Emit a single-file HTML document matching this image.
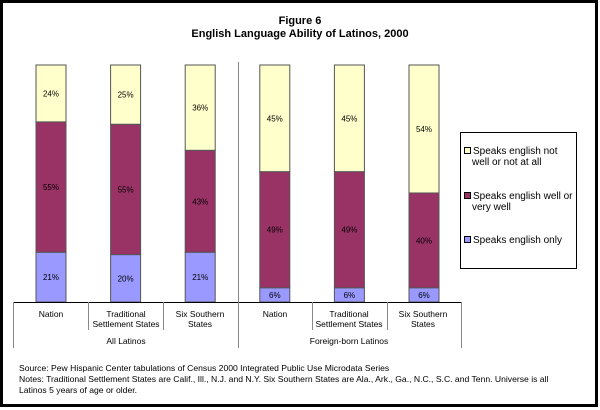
<!DOCTYPE html>
<html><head><meta charset="utf-8"><style>
body{margin:0;width:600px;height:410px;background:#fff;overflow:hidden}
svg{display:block;font-family:"Liberation Sans",Arial,sans-serif}
</style></head><body>
<svg id="c" width="600" height="410">
<rect x="1.5" y="1.5" width="595" height="404" fill="#fff" stroke="#000" stroke-width="3"/>
<text x="300" y="24" text-anchor="middle" font-size="11" font-weight="bold">Figure 6</text>
<text x="300" y="37" text-anchor="middle" font-size="11" font-weight="bold">English Language Ability of Latinos, 2000</text>
<g id="bars"></g>
<g id="axis" stroke="#000" stroke-width="1" fill="none">
<line x1="13" y1="302.5" x2="461" y2="302.5"/>
<line x1="238.5" y1="62" x2="238.5" y2="348" stroke="#888"/>
<line x1="13.5" y1="302" x2="13.5" y2="348" stroke="#888"/>
<line x1="461.5" y1="302" x2="461.5" y2="348" stroke="#888"/>
<line x1="88.5" y1="302" x2="88.5" y2="330" stroke="#888"/>
<line x1="163.5" y1="302" x2="163.5" y2="330" stroke="#888"/>
<line x1="312.5" y1="302" x2="312.5" y2="330" stroke="#888"/>
<line x1="387.5" y1="302" x2="387.5" y2="330" stroke="#888"/>
</g>
<g font-size="8.5" fill="#000" text-anchor="middle">
<text x="51" y="317">Nation</text>
<text x="126" y="317">Traditional</text>
<text x="126" y="327">Settlement States</text>
<text x="200" y="317">Six Southern</text>
<text x="200" y="327">States</text>
<text x="275" y="317">Nation</text>
<text x="349" y="317">Traditional</text>
<text x="349" y="327">Settlement States</text>
<text x="423" y="317">Six Southern</text>
<text x="423" y="327">States</text>
<text x="126" y="344">All Latinos</text>
<text x="349" y="344">Foreign-born Latinos</text>
</g>
<g>
<rect x="460.5" y="132.5" width="116" height="136" fill="#fff" stroke="#000"/>
<rect x="464.5" y="147.5" width="6" height="6" fill="#FFFFCC" stroke="#000"/>
<text x="473" y="154" font-size="10">Speaks english not</text>
<text x="472" y="165" font-size="10">well or not at all</text>
<rect x="464.5" y="192.5" width="6" height="6" fill="#993366" stroke="#000"/>
<text x="473" y="199" font-size="10">Speaks english well or</text>
<text x="472" y="210" font-size="10">very well</text>
<rect x="464.5" y="236.5" width="6" height="6" fill="#9999FF" stroke="#000"/>
<text x="473" y="243" font-size="10">Speaks english only</text>
</g>
<g font-size="8.6" fill="#000">
<text x="19" y="371">Source: Pew Hispanic Center tabulations of Census 2000 Integrated Public Use Microdata Series</text>
<text x="19" y="382">Notes: Traditional Settlement States are Calif., Ill., N.J. and N.Y.  Six Southern States are Ala., Ark., Ga., N.C., S.C. and Tenn.  Universe is all</text>
<text x="19" y="393">Latinos 5 years of age or older.</text>
</g>
</svg>
<script>
const categories=["Nation","Traditional Settlement States","Six Southern States","Nation (foreign-born)","Traditional (foreign-born)","Six Southern (foreign-born)"];
const onlyVals=[21,20,21,6,6,6];
const wellVals=[55,55,43,49,49,40];
const notWellVals=[24,25,36,45,45,54];
const ns="http://www.w3.org/2000/svg";
const g=document.getElementById('bars');
const yBase=302,yTop=65;
function y(v){return yBase-(v/100)*(yBase-yTop);}
function xc(i){return 51+i*74.6;}
const series=[[onlyVals,"#9999FF","only"],[wellVals,"#993366","well"],[notWellVals,"#FFFFCC","not-well"]];
categories.forEach((c,i)=>{
  let cum=0;
  series.forEach(([vals,col,key])=>{
    const v=vals[i];
    const y1=y(cum+v),y0=y(cum);
    const r=document.createElementNS(ns,'rect');
    r.setAttribute('x',xc(i)-15);r.setAttribute('width',30);
    r.setAttribute('y',y1);r.setAttribute('height',y0-y1);
    r.setAttribute('fill',col);r.setAttribute('stroke','#555');r.setAttribute('stroke-width','1');
    
    
    g.appendChild(r);
    const t=document.createElementNS(ns,'text');
    t.setAttribute('x',xc(i));t.setAttribute('y',(y0+y1)/2+3);
    t.setAttribute('text-anchor','middle');t.setAttribute('font-size','8');
    t.textContent=v+'%';
    
    
    g.appendChild(t);
    cum+=v;
  });
});
</script>
</body></html>
